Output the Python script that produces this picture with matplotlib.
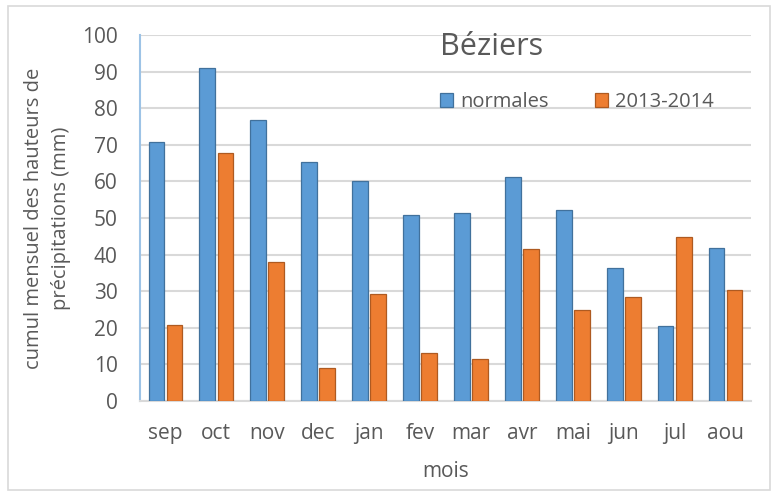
import matplotlib
matplotlib.use("Agg")
import matplotlib.pyplot as plt
import numpy as np
from matplotlib.patches import Rectangle

months = ["sep", "oct", "nov", "dec", "jan", "fev", "mar", "avr", "mai", "jun", "jul", "aou"]
normales = [70.7, 90.9, 76.7, 65.4, 60.1, 50.9, 51.4, 61.3, 52.1, 36.4, 20.5, 41.7]
annee_2013_2014 = [20.7, 67.7, 38.0, 8.9, 29.2, 13.1, 11.6, 41.4, 24.8, 28.5, 44.7, 30.3]
yticks = [0, 10, 20, 30, 40, 50, 60, 70, 80, 90, 100]

blue = "#5b9bd5"
orange = "#ed7d31"
txt = "#595959"
grid = "#d9d9d9"
font = "Open Sans"

fig = plt.figure(figsize=(7.73, 4.92), dpi=100)
ax = fig.add_axes([140/773, 1-401/492, (751-140)/773, (401-35)/492])

x = np.arange(len(months))
w = 0.31
off = 0.178
ax.bar(x - off, normales, w, color=blue, edgecolor="#41719c", linewidth=0.9, zorder=3, label="normales")
ax.bar(x + off, annee_2013_2014, w, color=orange, edgecolor="#ae5a21", linewidth=0.9, zorder=3, label="2013-2014")

ax.set_xlim(-0.5, len(months) - 0.5)
ax.set_ylim(0, 100)
ax.set_yticks(yticks)
ax.set_yticklabels([str(v) for v in yticks], fontsize=15, color=txt, family=font)
ax.set_xticks(x)
ax.set_xticklabels(months, fontsize=15, color=txt, family=font)
ax.tick_params(axis="y", length=0, pad=16)
ax.tick_params(axis="x", length=0, pad=16)
ax.yaxis.grid(True, color=grid, linewidth=1.5, zorder=0)
ax.set_axisbelow(True)
for s in ["top", "right"]:
    ax.spines[s].set_visible(False)
ax.spines["left"].set_color("#9dc3e6")
ax.spines["left"].set_linewidth(1.5)
ax.spines["bottom"].set_color(grid)
ax.spines["bottom"].set_linewidth(1.5)

ax.set_ylabel("cumul mensuel des hauteurs de\nprécipitations (mm)", fontsize=14.5, color=txt, family=font,
              labelpad=8, linespacing=1.45)
ax.set_xlabel("mois", fontsize=15, color=txt, family=font, labelpad=12)

fig.text(492/773, 1-47/492, "Béziers", fontsize=22, color=txt, family=font, ha="center", va="center")

leg = ax.legend(loc="center", bbox_to_anchor=((577-140)/611, (401-102)/366), ncol=2, frameon=False,
                prop={"family": font, "size": 14.5}, handlelength=0.65, handleheight=0.65,
                columnspacing=2.3, handletextpad=0.35)
for t in leg.get_texts():
    t.set_color(txt)

fig.patches.append(Rectangle((8/773, 0.004), 762/773, 1-6/492-0.004, transform=fig.transFigure,
                             fill=False, edgecolor=grid, linewidth=1.2))

fig.savefig("out.png", dpi=100)
